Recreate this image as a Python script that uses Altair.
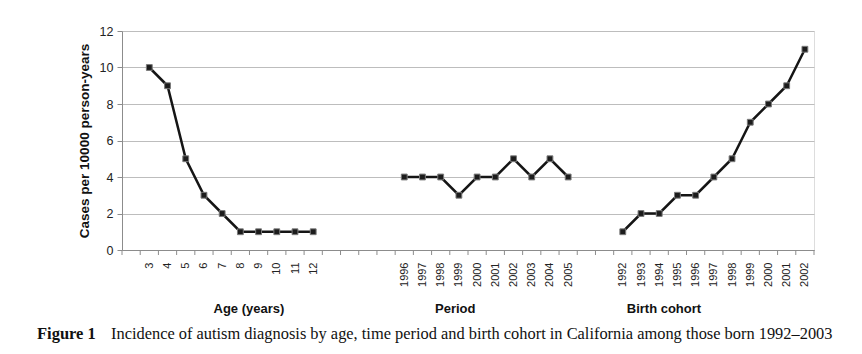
import altair as alt
import pandas as pd

# ---- data ----
ages = [3, 4, 5, 6, 7, 8, 9, 10, 11, 12]
age_rates = [10, 9, 5, 3, 2, 1, 1, 1, 1, 1]
periods = [1996, 1997, 1998, 1999, 2000, 2001, 2002, 2003, 2004, 2005]
period_rates = [4, 4, 4, 3, 4, 4, 5, 4, 5, 4]
cohorts = [1992, 1993, 1994, 1995, 1996, 1997, 1998, 1999, 2000, 2001, 2002]
cohort_rates = [1, 2, 2, 3, 3, 4, 5, 7, 8, 9, 11]
group_titles = ["Age (years)", "Period", "Birth cohort"]

# category slots along one axis (blank slots separate the three groups)
lead_blank, gap1, gap2 = 1, 4, 2
rows = []
slot_labels = [""] * lead_blank
slot = lead_blank
for grp, cats, vals, gap in [("age", ages, age_rates, gap1),
                             ("period", periods, period_rates, gap2),
                             ("cohort", cohorts, cohort_rates, 0)]:
    for c, v in zip(cats, vals):
        rows.append({"slot": slot, "label": str(c), "rate": v, "group": grp})
        slot_labels.append(str(c))
        slot += 1
    slot_labels += [""] * gap
    slot += gap
n_slots = len(slot_labels)
df = pd.DataFrame(rows)

label_js = "[" + ",".join("'" + s + "'" for s in slot_labels) + "][datum.value]"

W, H = 692, 219
xscale = alt.Scale(domain=[-0.5, n_slots - 0.5], nice=False, zero=False)
yscale = alt.Scale(domain=[0, 12], nice=False)

x_axis = alt.Axis(
    values=list(df["slot"]), labelExpr=label_js, labelAngle=-90,
    labelFontSize=11, labelFont="Liberation Sans", labelColor="#222",
    labelPadding=12, labelOverlap=False, ticks=False, grid=False,
    domainColor="#8c8c8c", title=None)
y_axis = alt.Axis(values=[0, 2, 4, 6, 8, 10, 12],
                  title="Cases per 10000 person-years",
                  titleFont="Liberation Sans", titleFontSize=13.5,
                  titleFontWeight="bold", titleColor="#111",
                  titlePadding=8, labelOverlap=False,
                  labelFont="Liberation Sans", labelFontSize=12.5,
                  labelColor="#222", labelPadding=4,
                  tickSize=5, tickColor="#8c8c8c",
                  domainColor="#8c8c8c", gridColor="#bdbdbd")

base = alt.Chart(df)
lines = base.mark_line(color="#151515", strokeWidth=2.5).encode(
    x=alt.X("slot:Q", scale=xscale, axis=x_axis),
    y=alt.Y("rate:Q", scale=yscale, axis=y_axis),
    detail="group:N")
points = base.mark_point(shape="square", filled=True, size=34, opacity=1,
                         color="#1c1c1c", stroke="#7a7a7a", strokeWidth=1).encode(
    x=alt.X("slot:Q", scale=xscale, axis=x_axis),
    y=alt.Y("rate:Q", scale=yscale, axis=y_axis))

ticks_df = pd.DataFrame({"b": [i - 0.5 for i in range(n_slots + 1)]})
ticks = alt.Chart(ticks_df).mark_rule(color="#8c8c8c", strokeWidth=1).encode(
    x=alt.X("b:Q", scale=xscale, axis=x_axis), y=alt.value(H), y2=alt.value(H + 5))

grp_df = pd.DataFrame({"t": group_titles, "pos": [6.47, 17.8, 29.26]})
grp_text = alt.Chart(grp_df).mark_text(font="Liberation Sans", fontSize=13,
                                       fontWeight="bold", color="#111",
                                       baseline="middle").encode(
    x=alt.X("pos:Q", scale=xscale, axis=x_axis), y=alt.value(H + 59), text="t:N")

cap_df = pd.DataFrame({"a": ["Figure 1"],
                       "b": ["Incidence of autism diagnosis by age, time period and birth cohort in California among those born 1992\u20132003"]})
cap1 = alt.Chart(cap_df).mark_text(font="Liberation Serif", fontSize=16.5,
                                   fontWeight="bold", align="left",
                                   baseline="middle", color="#111").encode(
    x=alt.value(-85), y=alt.value(H + 84), text="a:N")
cap2 = alt.Chart(cap_df).mark_text(font="Liberation Serif", fontSize=16.4,
                                   align="left", baseline="middle",
                                   color="#111").encode(
    x=alt.value(-11), y=alt.value(H + 84), text="b:N")

chart = alt.layer(lines, ticks, points, grp_text, cap1, cap2).properties(
    width=W, height=H,
    autosize=alt.AutoSizeParams(type="none"),
    padding={"left": 122, "top": 31, "right": 48, "bottom": 104},
).configure_view(stroke=None).configure_axis(
    labelOverlap=False
).configure(background="white")

chart.save("out.html", embed_options={"renderer": "svg", "actions": False})
